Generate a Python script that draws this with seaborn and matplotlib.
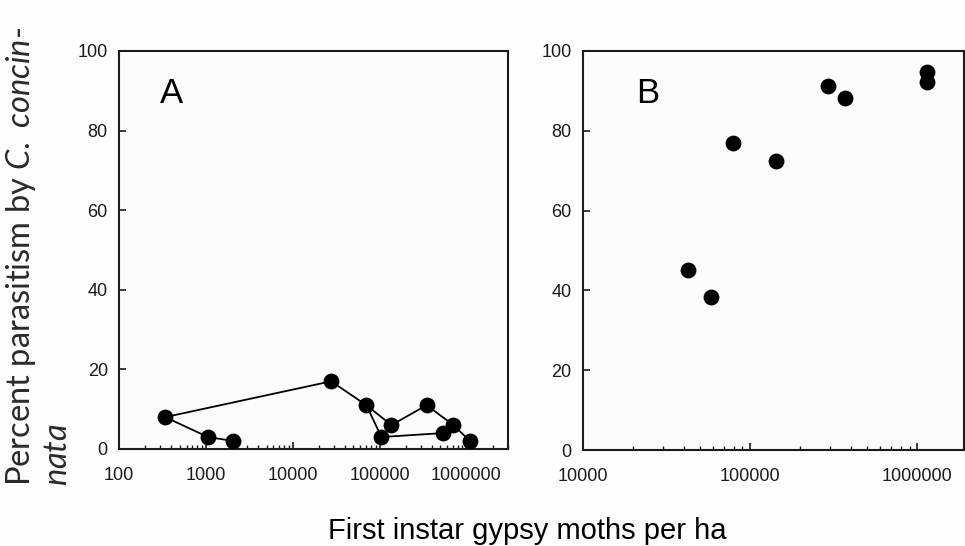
import numpy as np
import pandas as pd
import matplotlib
matplotlib.use("Agg")
import matplotlib.pyplot as plt
from matplotlib.ticker import LogLocator, FixedLocator, NullFormatter
import seaborn as sns

sns.set_theme(style="ticks")
plt.rcParams['font.family'] = ['Liberation Sans', 'DejaVu Sans']
plt.rcParams['mathtext.fontset'] = 'custom'
plt.rcParams['mathtext.it'] = 'Lato:italic'
plt.rcParams['mathtext.rm'] = 'Lato'

# panel A: low density sites, points joined through time
a_density = [2080, 1060, 340, 27700, 70500, 137000, 348000, 708000, 1100000, 105000, 542000]
a_parasitism = [2, 3, 8, 17, 11, 6, 11, 6, 2, 3, 4]
a_track1 = [0, 1, 2, 3, 4, 5, 6, 7, 8]
a_track2 = [4, 9, 10, 7]

# panel B: high density sites
b_density = [42700, 58300, 79400, 143000, 291000, 371000, 1140000, 1140000]
b_parasitism = [45, 38.3, 77, 72.5, 91.3, 88.3, 94.8, 92.3]

a_ticks = [100, 1000, 10000, 100000, 1000000]
b_ticks = [10000, 100000, 1000000]
y_ticks = [0, 20, 40, 60, 80, 100]

pts_a = pd.DataFrame(dict(density=a_density, parasitism=a_parasitism))
rows = []
for k, tr in enumerate([a_track1, a_track2]):
    for i in tr:
        rows.append(dict(track=k, density=a_density[i], parasitism=a_parasitism[i]))
lines_a = pd.DataFrame(rows)
pts_b = pd.DataFrame(dict(density=b_density, parasitism=b_parasitism))

fig = plt.figure(figsize=(9.65, 5.46), dpi=100, facecolor="#fdfdfd")
axA = fig.add_axes([0.1233, 0.1777, 0.403, 0.729])
axB = fig.add_axes([0.604, 0.1758, 0.395, 0.731])

sns.lineplot(data=lines_a, x="density", y="parasitism", units="track", estimator=None,
             sort=False, color="black", lw=1.3, ax=axA, legend=False)
sns.scatterplot(data=pts_a, x="density", y="parasitism", color="black", s=130,
                edgecolor="black", linewidth=0, ax=axA, legend=False, zorder=5)
sns.scatterplot(data=pts_b, x="density", y="parasitism", color="black", s=130,
                edgecolor="black", linewidth=0, ax=axB, legend=False, zorder=5)

for ax, lim, ticks, letter, lx in [(axA, (100, 3e6), a_ticks, "A", 0.105),
                                   (axB, (1e4, 1.9e6), b_ticks, "B", 0.14)]:
    ax.set_xscale("log")
    ax.set_xlim(*lim)
    ax.set_ylim(0, 100)
    ax.set_facecolor("#fbfcfd")
    ax.xaxis.set_major_locator(FixedLocator(ticks))
    ax.set_xticklabels([str(t) for t in ticks])
    ax.xaxis.set_minor_locator(LogLocator(base=10, subs=np.arange(2, 10)))
    ax.xaxis.set_minor_formatter(NullFormatter())
    ax.set_yticks(y_ticks)
    ax.tick_params(axis="both", which="major", direction="in", length=5, width=1.2,
                   labelsize=13, colors="#1a1a1a", pad=8)
    ax.tick_params(axis="x", which="major", pad=13)
    ax.tick_params(axis="x", which="minor", direction="in", length=3, width=1.0,
                   colors="#1a1a1a")
    for s in ax.spines.values():
        s.set_linewidth(1.5)
        s.set_color("#1a1a1a")
    ax.set_xlabel("")
    ax.set_ylabel("")
    ax.text(lx, 0.87, letter, transform=ax.transAxes, fontsize=25, color="black",
            ha="left", va="baseline")

fig.text(0.546, 0.028, "First instar gypsy moths per ha", fontsize=21,
         ha="center", va="center", color="black")
fig.text(0.004, 0.11, "Percent parasitism by $\\it{C.\\ concin}$-\n$\\it{nata}$",
         rotation=90, fontsize=23.5, family="Lato",
         ha="left", va="bottom", multialignment="left", color="#2a2a2a",
         linespacing=1.2)

fig.savefig("out.png", dpi=100, facecolor=fig.get_facecolor())
